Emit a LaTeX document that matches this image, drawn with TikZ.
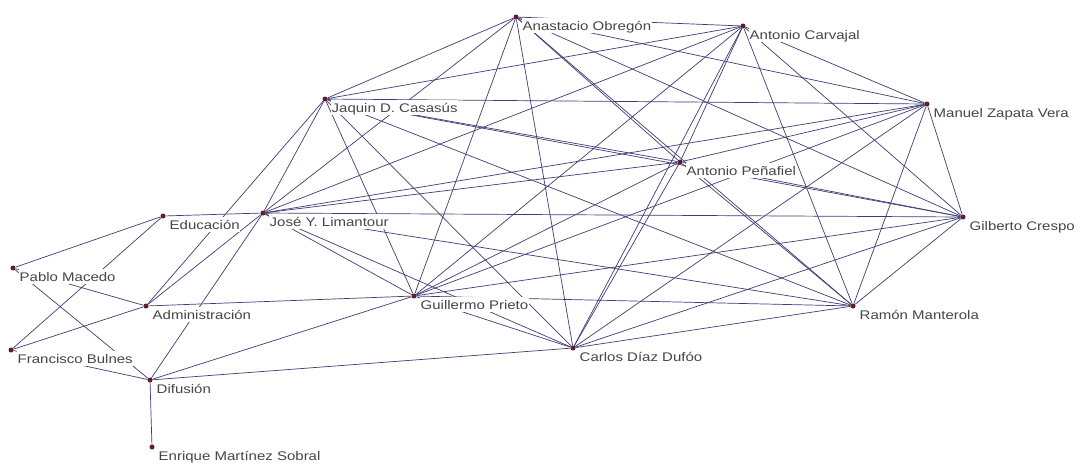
\documentclass[tikz,border=0pt]{standalone}
\usepackage{fontspec}
\newfontfamily\lblfont{Liberation Sans}[FakeStretch=1.2]
\definecolor{edgeblue}{RGB}{62,62,118}
\definecolor{dotred}{RGB}{95,30,48}
\definecolor{labelgray}{RGB}{70,70,70}
\pgfdeclarelayer{paper}
\pgfdeclarelayer{edges}
\pgfsetlayers{paper,edges,main}
\begin{document}
\begin{tikzpicture}[x=1pt,y=-1pt,
  actor/.style={circle,fill=dotred,inner sep=0pt,minimum size=5pt},
  tie/.style={draw=edgeblue,line width=0.7pt},
  tag/.style={anchor=base west,fill=white,inner sep=0.5pt,text height=11.5pt,text depth=2pt,
    font=\lblfont\fontsize{12.5}{14}\selectfont,text=labelgray}]
\useasboundingbox (0,0) rectangle (1083,466);
\begin{pgfonlayer}{paper}
\fill[white] (0,0) rectangle (1083,466);
\end{pgfonlayer}

% actors and their name tags
\foreach \n/\x/\y/\t in {
  anastacio/516/17/Anastacio Obregón,
  carvajal/743/26/Antonio Carvajal,
  casasus/325/99/Jaquin D. Casasús,
  zapata/927/104/Manuel Zapata Vera,
  penafiel/680/162/Antonio Peñafiel,
  educacion/163/216/Educación,
  limantour/263/213/José Y. Limantour,
  crespo/963/217/Gilberto Crespo,
  macedo/13/268/Pablo Macedo,
  admin/146/306/Administración,
  prieto/414/296/Guillermo Prieto,
  manterola/853/306/Ramón Manterola,
  bulnes/11/350/Francisco Bulnes,
  difusion/150/380/Difusión,
  diaz/573/348/Carlos Díaz Dufóo,
  sobral/152/447/Enrique Martínez Sobral}
{
  \node[tag] (\n-tag) at (\x+6,\y+13) {\t};
  \node[actor] (\n) at (\x,\y) {};
}

\begin{pgfonlayer}{edges}
% the core group: everyone tied to everyone
\foreach \a [count=\i] in {anastacio,carvajal,casasus,zapata,penafiel,limantour,crespo,prieto,manterola,diaz}
  \foreach \b [count=\j] in {anastacio,carvajal,casasus,zapata,penafiel,limantour,crespo,prieto,manterola,diaz}
  {
    \ifnum\j>\i \draw[tie] (\a) -- (\b); \fi
  }
% areas and the remaining members
\foreach \a/\b in {
  educacion/limantour, admin/limantour, admin/casasus, admin/prieto,
  difusion/limantour, difusion/prieto, difusion/diaz, difusion/sobral,
  macedo/educacion, macedo/admin, macedo/difusion,
  bulnes/educacion, bulnes/admin, bulnes/difusion}
  \draw[tie] (\a) -- (\b);
\end{pgfonlayer}
\end{tikzpicture}
\end{document}
